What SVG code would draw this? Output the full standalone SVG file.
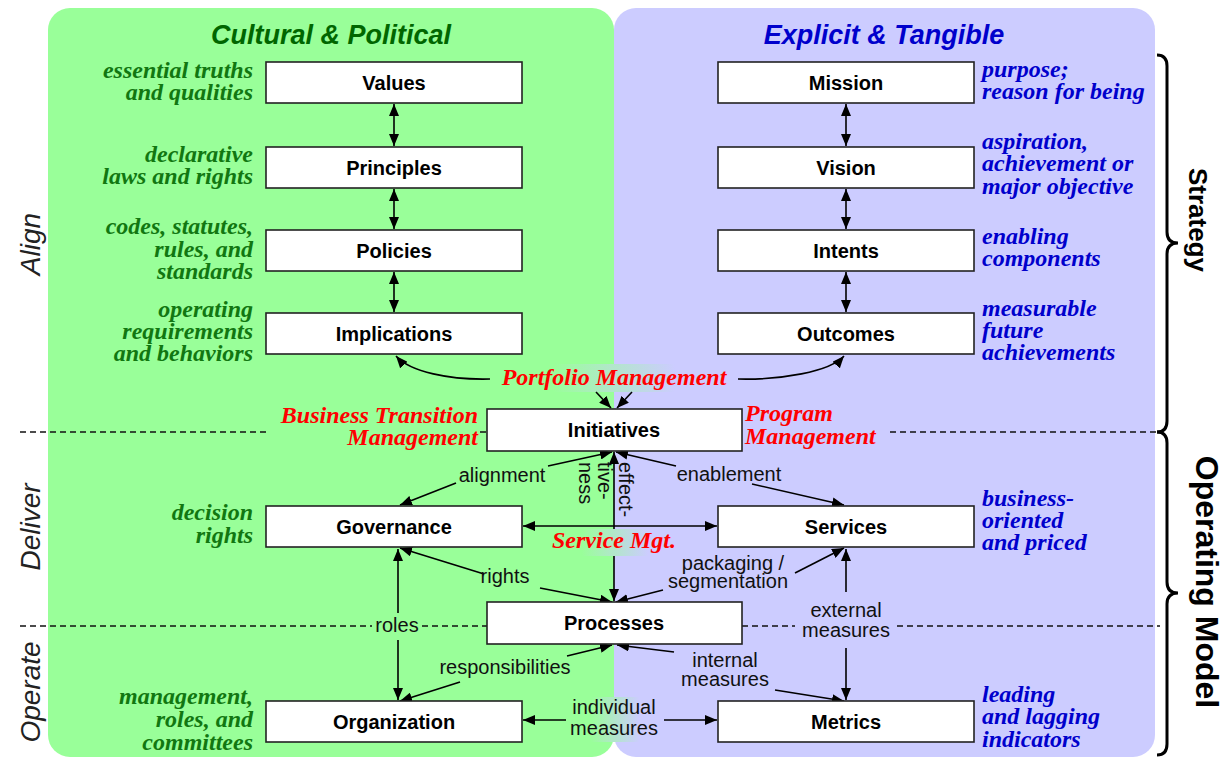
<svg xmlns="http://www.w3.org/2000/svg" width="1225" height="758" viewBox="0 0 1225 758">
<style>
.node rect{fill:#fff;stroke:#222;stroke-width:1.6}
.node text{font-family:"Liberation Sans",Arial,sans-serif;font-weight:bold;font-size:20px;text-anchor:middle;fill:#000}
.title{font-family:"Liberation Sans",Arial,sans-serif;font-weight:bold;font-style:italic;font-size:27px;text-anchor:middle}
.ann{font-family:"Liberation Serif","Times New Roman",serif;font-weight:bold;font-style:italic;font-size:24px}
.g{fill:#117711;text-anchor:end}
.b{fill:#0000cc;text-anchor:start}
.red{font-family:"Liberation Serif","Times New Roman",serif;font-weight:bold;font-style:italic;font-size:24px;fill:#ff0000}
.lbl{font-family:"Liberation Sans Narrow","Liberation Sans",Arial,sans-serif;font-size:20px;fill:#111;text-anchor:middle}
.side{font-family:"Liberation Sans",Arial,sans-serif;font-style:italic;font-size:28px;fill:#222;text-anchor:middle}
.brlbl{font-family:"Liberation Sans",Arial,sans-serif;font-weight:bold;fill:#000;text-anchor:middle}
.dash{stroke:#111;stroke-width:1.5;stroke-dasharray:6 4;fill:none}
.conn path{stroke:#000;stroke-width:1.6;fill:none}
.brace{stroke:#000;stroke-width:3;fill:none}
</style>
<defs>
<marker id="ah" markerUnits="userSpaceOnUse" markerWidth="12" markerHeight="10" viewBox="0 0 12 10" refX="12" refY="5" orient="auto-start-reverse">
<path d="M0,0 L12,5 L0,10 z" fill="#000"/>
</marker>
<linearGradient id="gb" x1="0" y1="0" x2="1" y2="0">
<stop offset="0" stop-color="#99ff99"/>
<stop offset="0.25" stop-color="#99ff99"/>
<stop offset="0.75" stop-color="#ccccff"/>
<stop offset="1" stop-color="#ccccff"/>
</linearGradient>
</defs>

<!-- panels -->
<rect x="48" y="8" width="566" height="749" rx="22" fill="#99ff99"/>
<rect x="614" y="8" width="541" height="749" rx="22" fill="#ccccff"/>

<text class="title" x="331" y="44" fill="#006600">Cultural &amp; Political</text>
<text class="title" x="884" y="44" fill="#0000cc">Explicit &amp; Tangible</text>

<!-- dashed separators -->
<path class="dash" d="M20 432 H270 M480 432 H487 M890 432 H1160"/>
<path class="dash" d="M20 626 H372 M422 626 H487 M742 626 H795 M897 626 H1160"/>

<!-- label backgrounds -->
<rect x="492" y="364" width="244" height="28" fill="url(#gb)"/>
<rect x="548" y="529" width="134" height="27" fill="url(#gb)"/>
<rect x="566" y="697" width="98" height="45" fill="url(#gb)"/>

<!-- connectors -->
<g class="conn">
<path d="M394 104 V146" marker-start="url(#ah)" marker-end="url(#ah)"/>
<path d="M394 189 V229" marker-start="url(#ah)" marker-end="url(#ah)"/>
<path d="M394 272 V312" marker-start="url(#ah)" marker-end="url(#ah)"/>
<path d="M846 104 V146" marker-start="url(#ah)" marker-end="url(#ah)"/>
<path d="M846 189 V229" marker-start="url(#ah)" marker-end="url(#ah)"/>
<path d="M846 272 V312" marker-start="url(#ah)" marker-end="url(#ah)"/>
<path d="M490 379 C450 380 410 372 396 356" marker-end="url(#ah)"/>
<path d="M738 379 C780 380 830 372 844 356" marker-end="url(#ah)"/>
<path d="M596 392 L611 408" marker-end="url(#ah)"/>
<path d="M632 392 L617 408" marker-end="url(#ah)"/>
<path d="M548 466 L612 452" marker-end="url(#ah)"/>
<path d="M456 483 L400 505" marker-end="url(#ah)"/>
<path d="M676 466 L616 452" marker-end="url(#ah)"/>
<path d="M752 484 L844 505" marker-end="url(#ah)"/>
<path d="M614 452 V529 M614 556 V601" marker-start="url(#ah)" marker-end="url(#ah)"/>
<path d="M523 526 H717" marker-start="url(#ah)" marker-end="url(#ah)"/>
<path d="M484 574 L400 548" marker-end="url(#ah)"/>
<path d="M540 588 L612 602" marker-end="url(#ah)"/>
<path d="M795 573 L844 548" marker-end="url(#ah)"/>
<path d="M663 590 L616 602" marker-end="url(#ah)"/>
<path d="M398 613 V549" marker-end="url(#ah)"/>
<path d="M398 640 V700" marker-end="url(#ah)"/>
<path d="M567 656 L612 645" marker-end="url(#ah)"/>
<path d="M460 682 L400 701" marker-end="url(#ah)"/>
<path d="M674 652 L617 645" marker-end="url(#ah)"/>
<path d="M775 690 L844 701" marker-end="url(#ah)"/>
<path d="M846 592 V549" marker-end="url(#ah)"/>
<path d="M846 648 V700" marker-end="url(#ah)"/>
<path d="M566 720 H523" marker-end="url(#ah)"/>
<path d="M664 720 H717" marker-end="url(#ah)"/>
</g>

<!-- connector labels -->
<g>
<text class="lbl" x="502" y="482">alignment</text>
<text class="lbl" x="729" y="481">enablement</text>
<text class="lbl" x="505" y="583">rights</text>
<text class="lbl" x="733" y="570">packaging /</text>
<text class="lbl" x="728" y="588">segmentation</text>
<text class="lbl" x="397" y="632">roles</text>
<text class="lbl" x="505" y="674">responsibilities</text>
<text class="lbl" x="725" y="667">internal</text>
<text class="lbl" x="725" y="686">measures</text>
<text class="lbl" x="846" y="617">external</text>
<text class="lbl" x="846" y="637">measures</text>
<text class="lbl" x="614" y="714">individual</text>
<text class="lbl" x="614" y="735">measures</text>
<text class="lbl" style="text-anchor:start" transform="translate(619,462) rotate(90)">effect-</text>
<text class="lbl" style="text-anchor:start" transform="translate(598,462) rotate(90)">tive-</text>
<text class="lbl" style="text-anchor:start" transform="translate(579,462) rotate(90)">ness</text>
</g>

<!-- nodes -->
<g id="values" class="node"><rect x="266" y="62" width="256" height="41"/><text x="394" y="90">Values</text></g>
<g id="principles" class="node"><rect x="266" y="147" width="256" height="41"/><text x="394" y="175">Principles</text></g>
<g id="policies" class="node"><rect x="266" y="230" width="256" height="41"/><text x="394" y="258">Policies</text></g>
<g id="implications" class="node"><rect x="266" y="313" width="256" height="41"/><text x="394" y="341">Implications</text></g>
<g id="mission" class="node"><rect x="718" y="62" width="256" height="41"/><text x="846" y="90">Mission</text></g>
<g id="vision" class="node"><rect x="718" y="147" width="256" height="41"/><text x="846" y="175">Vision</text></g>
<g id="intents" class="node"><rect x="718" y="230" width="256" height="41"/><text x="846" y="258">Intents</text></g>
<g id="outcomes" class="node"><rect x="718" y="313" width="256" height="41"/><text x="846" y="341">Outcomes</text></g>
<g id="initiatives" class="node"><rect x="487" y="409" width="255" height="42"/><text x="614" y="437">Initiatives</text></g>
<g id="governance" class="node"><rect x="266" y="506" width="256" height="41"/><text x="394" y="534">Governance</text></g>
<g id="services" class="node"><rect x="718" y="506" width="256" height="41"/><text x="846" y="534">Services</text></g>
<g id="processes" class="node"><rect x="487" y="602" width="255" height="42"/><text x="614" y="630">Processes</text></g>
<g id="organization" class="node"><rect x="266" y="701" width="256" height="41"/><text x="394" y="729">Organization</text></g>
<g id="metrics" class="node"><rect x="718" y="701" width="256" height="41"/><text x="846" y="729">Metrics</text></g>

<!-- annotations left -->
<g class="ann g">
<text x="253" y="78">essential truths</text>
<text x="253" y="100">and qualities</text>
<text x="253" y="162">declarative</text>
<text x="253" y="184">laws and rights</text>
<text x="253" y="234">codes, statutes,</text>
<text x="253" y="257">rules, and</text>
<text x="253" y="279">standards</text>
<text x="253" y="317">operating</text>
<text x="253" y="339">requirements</text>
<text x="253" y="361">and behaviors</text>
<text x="253" y="520">decision</text>
<text x="253" y="543">rights</text>
<text x="253" y="704">management,</text>
<text x="253" y="727">roles, and</text>
<text x="253" y="750">committees</text>
</g>
<!-- annotations right -->
<g class="ann b">
<text x="982" y="77">purpose;</text>
<text x="982" y="99">reason for being</text>
<text x="982" y="149">aspiration,</text>
<text x="982" y="171">achievement or</text>
<text x="982" y="194">major objective</text>
<text x="982" y="244">enabling</text>
<text x="982" y="266">components</text>
<text x="982" y="316">measurable</text>
<text x="982" y="338">future</text>
<text x="982" y="360">achievements</text>
<text x="982" y="506">business-</text>
<text x="982" y="528">oriented</text>
<text x="982" y="550">and priced</text>
<text x="982" y="702">leading</text>
<text x="982" y="724">and lagging</text>
<text x="982" y="747">indicators</text>
</g>

<!-- red management labels -->
<g class="red">
<text x="614" y="385" text-anchor="middle">Portfolio Management</text>
<text x="478" y="423" text-anchor="end">Business Transition</text>
<text x="478" y="445" text-anchor="end">Management</text>
<text x="745" y="421">Program</text>
<text x="745" y="444">Management</text>
<text x="614" y="548" text-anchor="middle">Service Mgt.</text>
</g>

<!-- side labels -->
<text class="side" transform="translate(40,244) rotate(-90)">Align</text>
<text class="side" transform="translate(40,527) rotate(-90)">Deliver</text>
<text class="side" transform="translate(40,692) rotate(-90)">Operate</text>

<!-- braces -->
<path class="brace" d="M1157 55 Q1167 55 1167 66 L1167 232 Q1167 243 1178 243 Q1167 243 1167 254 L1167 421 Q1167 432 1157 432"/>
<path class="brace" d="M1157 432 Q1167 432 1167 443 L1167 582 Q1167 593 1178 593 Q1167 593 1167 604 L1167 744 Q1167 755 1157 755"/>
<text class="brlbl" font-size="26" transform="translate(1189,220) rotate(90)">Strategy</text>
<text class="brlbl" font-size="32" transform="translate(1196,582) rotate(90)">Operating Model</text>
</svg>
